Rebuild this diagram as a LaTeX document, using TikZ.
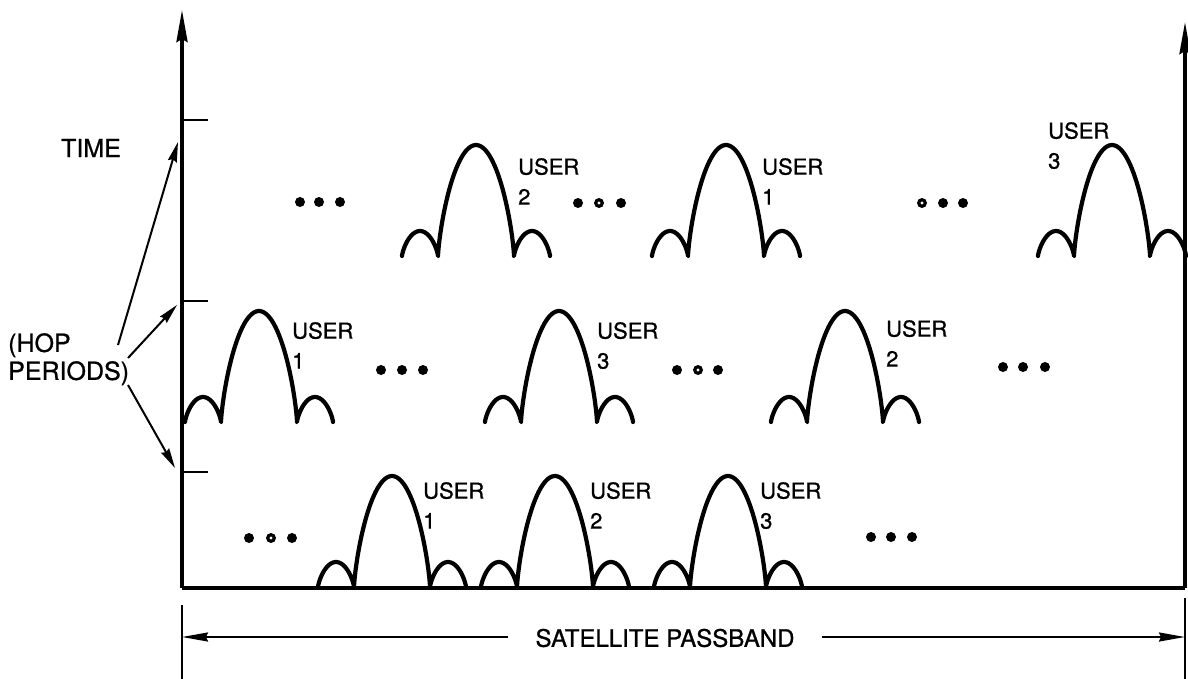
\documentclass[tikz,border=0pt]{standalone}
\usepackage{fontspec}
\setmainfont{TeX Gyre Heros}[FakeBold=0.9]
\usetikzlibrary{arrows.meta}
\begin{document}
\begin{tikzpicture}[x=1pt,y=-1pt,
  axisline/.style={line width=3.4pt},
  tickline/.style={line width=2pt},
  lobeline/.style={line width=4.2pt, line join=round, line cap=round},
  ptr/.style={line width=2pt, -{Stealth[length=20pt,width=9pt,inset=2pt]}},
  bandarrow/.style={line width=2pt, -{Stealth[length=26pt,width=9pt,inset=2pt]}},
  lbl/.style={anchor=north west, inner sep=0pt, align=left, font=\fontsize{22}{30}\selectfont},
  bigtext/.style={inner sep=0pt, font=\fontsize{25}{28}\selectfont},
]
\useasboundingbox (0,0) rectangle (1188,679);

% axes
\coordinate (O) at (182,588);
\coordinate (Ytop) at (182,10);
\coordinate (R) at (1185,588);
\coordinate (Rtop) at (1185,22);
\draw[axisline] (O) -- (R);
\draw[axisline, -{Stealth[length=32pt,width=11pt,inset=3pt]}] (O) -- (Ytop);
\draw[axisline, -{Stealth[length=32pt,width=11pt,inset=3pt]}] (R) -- (Rtop);

% hop-period ticks
\foreach \ty/\tn in {120/t1, 301/t2, 472/t3}{
  \coordinate (\tn) at (182,\ty);
  \coordinate (\tn e) at (208,\ty);
  \draw[tickline] (\tn) -- (\tn e);
}

% left labels
\node[bigtext] (time) at (91,148) {TIME};
\node[bigtext, anchor=north west, align=left] (hop) at (8,333) {(HOP\\PERIODS)};
\coordinate (h1) at (118,345);
\coordinate (h2) at (128,358);
\coordinate (h3) at (128,385);
\coordinate (a1) at (178,142);
\coordinate (a2) at (177,305);
\coordinate (a3) at (175,468);
\draw[ptr] (h1) -- (a1);
\draw[ptr] (h2) -- (a2);
\draw[ptr] (h3) -- (a3);

% spectra: main lobe with one sidelobe each side
\foreach \cx/\b/\lx/\ly/\u/\n in {476/256/518/158/2/a, 726/256/762/158/1/b, 1112/256/1048/122/3/c,
                                  259/422/292/322/1/d, 559/422/597/322/3/e, 845/422/886/320/2/f,
                                  392/587/423/482/1/g, 555/587/590/482/2/h, 728/587/760/482/3/i}{
  \draw[lobeline]
    plot[domain=180:0, samples=30] ({\cx-56+18*cos(\x)}, {\b-25*sin(\x)*sqrt(abs(sin(\x)))})
    -- plot[domain=180:0, samples=60] ({\cx+38*cos(\x)}, {\b-111*sin(\x)*sqrt(abs(sin(\x)))})
    -- plot[domain=180:0, samples=30] ({\cx+56+18*cos(\x)}, {\b-25*sin(\x)*sqrt(abs(sin(\x)))});
  \node[lbl] (user\n) at (\lx,\ly) {USER\\\u};
}

% ellipses between spectra (r = hollow-centred dot)
\foreach \dx/\dy/\r in {300/202/0, 319/202/0, 340/202/0,
                        578/203/0, 599/203/1, 621/203/0,
                        922/203/1, 943/203/0, 963/203/0,
                        381/370/0, 402/370/0, 423/370/0,
                        677/370/0, 698/370/1, 718/370/0,
                        1003/367/0, 1023/367/0, 1045/367/0,
                        249/538/0, 271/538/1, 292/538/0,
                        871/537/0, 891/537/0, 912/537/0}{
  \fill (\dx,\dy) circle (5);
  \ifnum\r=1 \fill[white] (\dx,\dy) circle (1.7); \fi
}

% passband
\coordinate (pl) at (182,605);
\coordinate (plb) at (182,679);
\coordinate (pr) at (1185,598);
\coordinate (prb) at (1185,679);
\draw[line width=2.4pt] (pl) -- (plb);
\draw[line width=2.4pt] (pr) -- (prb);
\node[inner ysep=0pt, inner xsep=27pt, font=\fontsize{24}{28}\selectfont] (pb) at (665,638) {SATELLITE PASSBAND};
\coordinate (pbl) at (182,637);
\coordinate (pbr) at (1185,637);
\draw[bandarrow] (pb.west |- pbl) -- (pbl);
\draw[bandarrow] (pb.east |- pbr) -- (pbr);
\end{tikzpicture}
\end{document}
